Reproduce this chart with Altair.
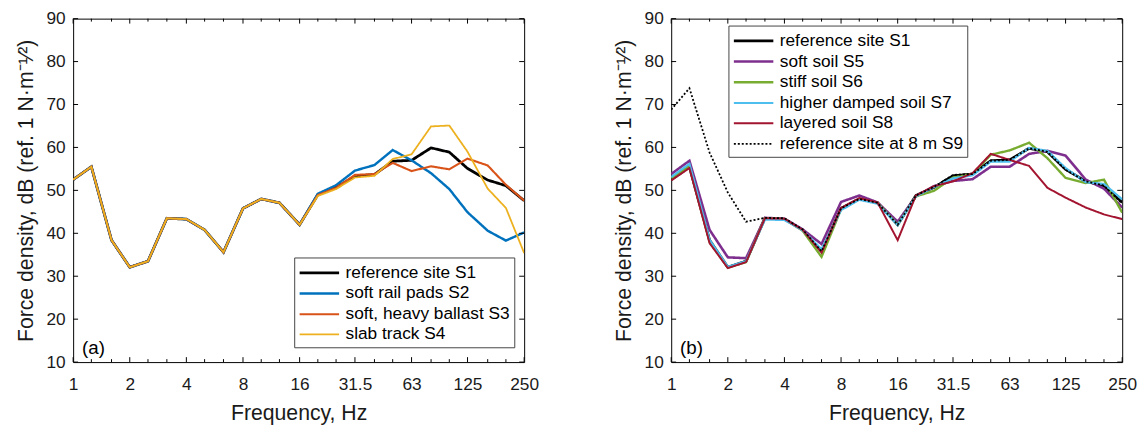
import altair as alt
import pandas as pd

FONT = "Liberation Sans"

freqs = [1, 1.25, 1.6, 2, 2.5, 3.15, 4, 5, 6.3, 8, 10, 12.5, 16, 20, 25,
         31.5, 40, 50, 63, 80, 100, 125, 160, 200, 250]
major_ticks = [1, 2, 4, 8, 16, 31.5, 63, 125, 250]
minor_ticks = [1.25, 1.6, 2.5, 3.15, 5, 6.3, 10, 12.5, 20, 25, 40, 50, 80, 100, 160, 200]
y_ticks = [10, 20, 30, 40, 50, 60, 70, 80, 90]

# ---- panel (a) ----
s1 = [52.5, 55.5, 38.4, 32.1, 33.5, 43.5, 43.3, 40.8, 35.6, 45.8, 48.0, 47.1, 42.0,
      49.0, 50.7, 53.3, 53.7, 56.8, 57.0, 59.9, 58.9, 55.1, 52.4, 51.1, 47.6]
s2 = [52.5, 55.5, 38.4, 32.1, 33.5, 43.5, 43.3, 40.8, 35.6, 45.8, 48.0, 47.1, 42.0,
      49.2, 51.2, 54.6, 55.9, 59.4, 57.0, 54.0, 50.3, 44.9, 40.6, 38.3, 40.2]
s3 = [52.5, 55.5, 38.4, 32.1, 33.5, 43.5, 43.3, 40.8, 35.6, 45.8, 48.0, 47.1, 42.0,
      48.9, 50.6, 53.6, 53.8, 56.4, 54.5, 55.6, 54.9, 57.4, 55.8, 51.3, 47.6]
s4 = [52.5, 55.5, 38.4, 32.1, 33.5, 43.5, 43.3, 40.8, 35.6, 45.8, 48.0, 47.1, 42.0,
      48.7, 50.3, 53.0, 53.4, 57.3, 58.4, 64.9, 65.1, 59.0, 50.4, 45.9, 35.4]

left_names = ["reference site S1", "soft rail pads S2", "soft, heavy ballast S3", "slab track S4"]
left_series = [s1, s2, s3, s4]
left_colors = ["#000000", "#0072BD", "#D95319", "#EDB120"]
left_widths = [2.8, 1.8, 1.8, 1.8]
left_dashes = [[1, 0], [1, 0], [1, 0], [1, 0]]

# ---- panel (b) ----
s1b = [52.5, 55.5, 38.4, 32.1, 33.5, 43.5, 43.3, 40.8, 35.8, 45.8, 48.0, 47.1, 42.0,
       48.8, 50.7, 53.4, 53.8, 56.9, 57.1, 59.8, 59.0, 54.9, 52.1, 51.1, 47.2]
s5 = [53.8, 56.9, 40.8, 34.4, 34.2, 43.6, 43.4, 40.9, 37.5, 47.3, 48.8, 47.2, 42.7,
      48.6, 51.0, 52.2, 52.6, 55.5, 55.5, 58.5, 59.2, 58.1, 52.5, 50.4, 46.0]
s6 = [52.8, 55.6, 38.0, 32.0, 33.3, 43.5, 43.3, 40.6, 34.5, 45.6, 48.0, 47.1, 42.0,
      48.6, 49.9, 53.0, 53.8, 58.3, 59.3, 61.1, 57.5, 52.9, 51.7, 52.5, 44.8]
s7 = [53.1, 56.2, 38.5, 32.2, 33.5, 43.2, 43.1, 40.7, 36.3, 45.4, 47.8, 46.9, 41.9,
      48.6, 50.8, 52.8, 53.5, 56.7, 56.7, 59.9, 59.2, 55.2, 51.9, 51.5, 47.9]
s8 = [52.3, 55.2, 37.7, 31.9, 33.3, 43.5, 43.4, 40.8, 35.5, 45.9, 48.2, 47.2, 38.4,
      48.8, 51.0, 52.1, 54.0, 58.5, 57.1, 55.7, 50.6, 48.3, 46.0, 44.4, 43.3]
s9 = [68.8, 73.8, 58.8, 49.5, 42.7, 43.6, 43.5, 40.9, 35.8, 45.8, 48.0, 47.1, 42.0,
      48.8, 50.8, 53.6, 53.8, 56.9, 57.1, 59.8, 59.0, 54.8, 52.1, 51.1, 46.9]

right_names = ["reference site S1", "soft soil S5", "stiff soil S6", "higher damped soil S7",
               "layered soil S8", "reference site at 8 m S9"]
right_series = [s1b, s5, s6, s7, s8, s9]
right_colors = ["#000000", "#7E2F8E", "#77AC30", "#4DBEEE", "#A2142F", "#000000"]
right_widths = [2.8, 1.8, 1.8, 1.8, 1.8, 2.0]
right_dashes = [[1, 0], [1, 0], [1, 0], [1, 0], [1, 0], [2, 2]]

W, H = 457, 348
Y_TITLE = "Force density, dB (ref. 1 N\u00b7m\u207b\u00b9\u2044\u00b2)"

X_AXIS = alt.Axis(values=major_ticks, format="~g", title="Frequency, Hz",
                  ticks=False, domain=False, grid=False, labelPadding=14,
                  titlePadding=10, labelFlush=False)
Y_AXIS = alt.Axis(values=y_ticks, title=Y_TITLE, ticks=False, domain=False,
                  grid=False, labelPadding=8, titlePadding=9)


def panel(names, series, colors, widths, dashes, tag, lx, ly):
    rows = []
    for i, (n, vals) in enumerate(zip(names, series)):
        for f, v in zip(freqs, vals):
            rows.append({"f": f, "v": v, "s": n, "k": i})
    df = pd.DataFrame(rows)
    xs = alt.Scale(type="log", domain=[1, 250], nice=False)
    ys = alt.Scale(domain=[10, 90], nice=False, zero=False)
    leg = alt.Legend(title=None, orient="none", legendX=lx, legendY=ly,
                     symbolType="M-1,0H3", symbolSize=400, labelFont=FONT,
                     labelFontSize=17.5, labelColor="#000", strokeColor="#444",
                     fillColor="white", padding=4, rowPadding=1, labelOffset=25,
                     labelLimit=400)
    lines = alt.Chart(df).mark_line(clip=True).encode(
        x=alt.X("f:Q", scale=xs, axis=X_AXIS),
        y=alt.Y("v:Q", scale=ys, axis=Y_AXIS),
        color=alt.Color("s:N", scale=alt.Scale(domain=names, range=colors), legend=leg),
        strokeDash=alt.StrokeDash("s:N", scale=alt.Scale(domain=names, range=dashes), legend=leg),
        strokeWidth=alt.StrokeWidth("s:N", scale=alt.Scale(domain=names, range=widths), legend=leg),
        order=alt.Order("f:Q"),
    )
    tmaj = pd.DataFrame({"f": major_ticks})
    tmin = pd.DataFrame({"f": minor_ticks})
    ty = pd.DataFrame({"v": y_ticks})
    layers = [lines]
    for tdf, L in ((tmaj, 5), (tmin, 3)):
        layers.append(alt.Chart(tdf).mark_rule(color="black", strokeWidth=1).encode(
            x=alt.X("f:Q", scale=xs, axis=X_AXIS), y=alt.value(H), y2=alt.value(H - L)))
        layers.append(alt.Chart(tdf).mark_rule(color="black", strokeWidth=1).encode(
            x=alt.X("f:Q", scale=xs, axis=X_AXIS), y=alt.value(0), y2=alt.value(L)))
    layers.append(alt.Chart(ty).mark_rule(color="black", strokeWidth=1).encode(
        y=alt.Y("v:Q", scale=ys, axis=Y_AXIS), x=alt.value(0), x2=alt.value(5)))
    layers.append(alt.Chart(ty).mark_rule(color="black", strokeWidth=1).encode(
        y=alt.Y("v:Q", scale=ys, axis=Y_AXIS), x=alt.value(W - 5), x2=alt.value(W)))
    layers.append(alt.Chart(pd.DataFrame({"t": [tag]})).mark_text(
        align="left", baseline="middle", fontSize=19, font=FONT, color="black").encode(
        x=alt.value(9), y=alt.value(334), text="t:N"))
    return alt.layer(*layers).properties(width=W, height=H)


left = panel(left_names, left_series, left_colors, left_widths, left_dashes, "(a)", 224, 242)
right = panel(right_names, right_series, right_colors, right_widths, right_dashes, "(b)", 58, 7)

chart = alt.hconcat(left, right, spacing=74).resolve_scale(
    color="independent", strokeDash="independent", strokeWidth="independent"
).properties(
    padding={"left": 7, "top": -2, "right": 0, "bottom": 0}, background="white"
).configure_view(stroke="black", strokeWidth=1).configure_axis(
    labelFont=FONT, labelFontSize=17.5, labelColor="#1a1a1a",
    titleFont=FONT, titleFontSize=21.5, titleFontWeight="normal", titleColor="#1a1a1a"
)

chart.save("out.html", embed_options={"renderer": "svg", "actions": False})
